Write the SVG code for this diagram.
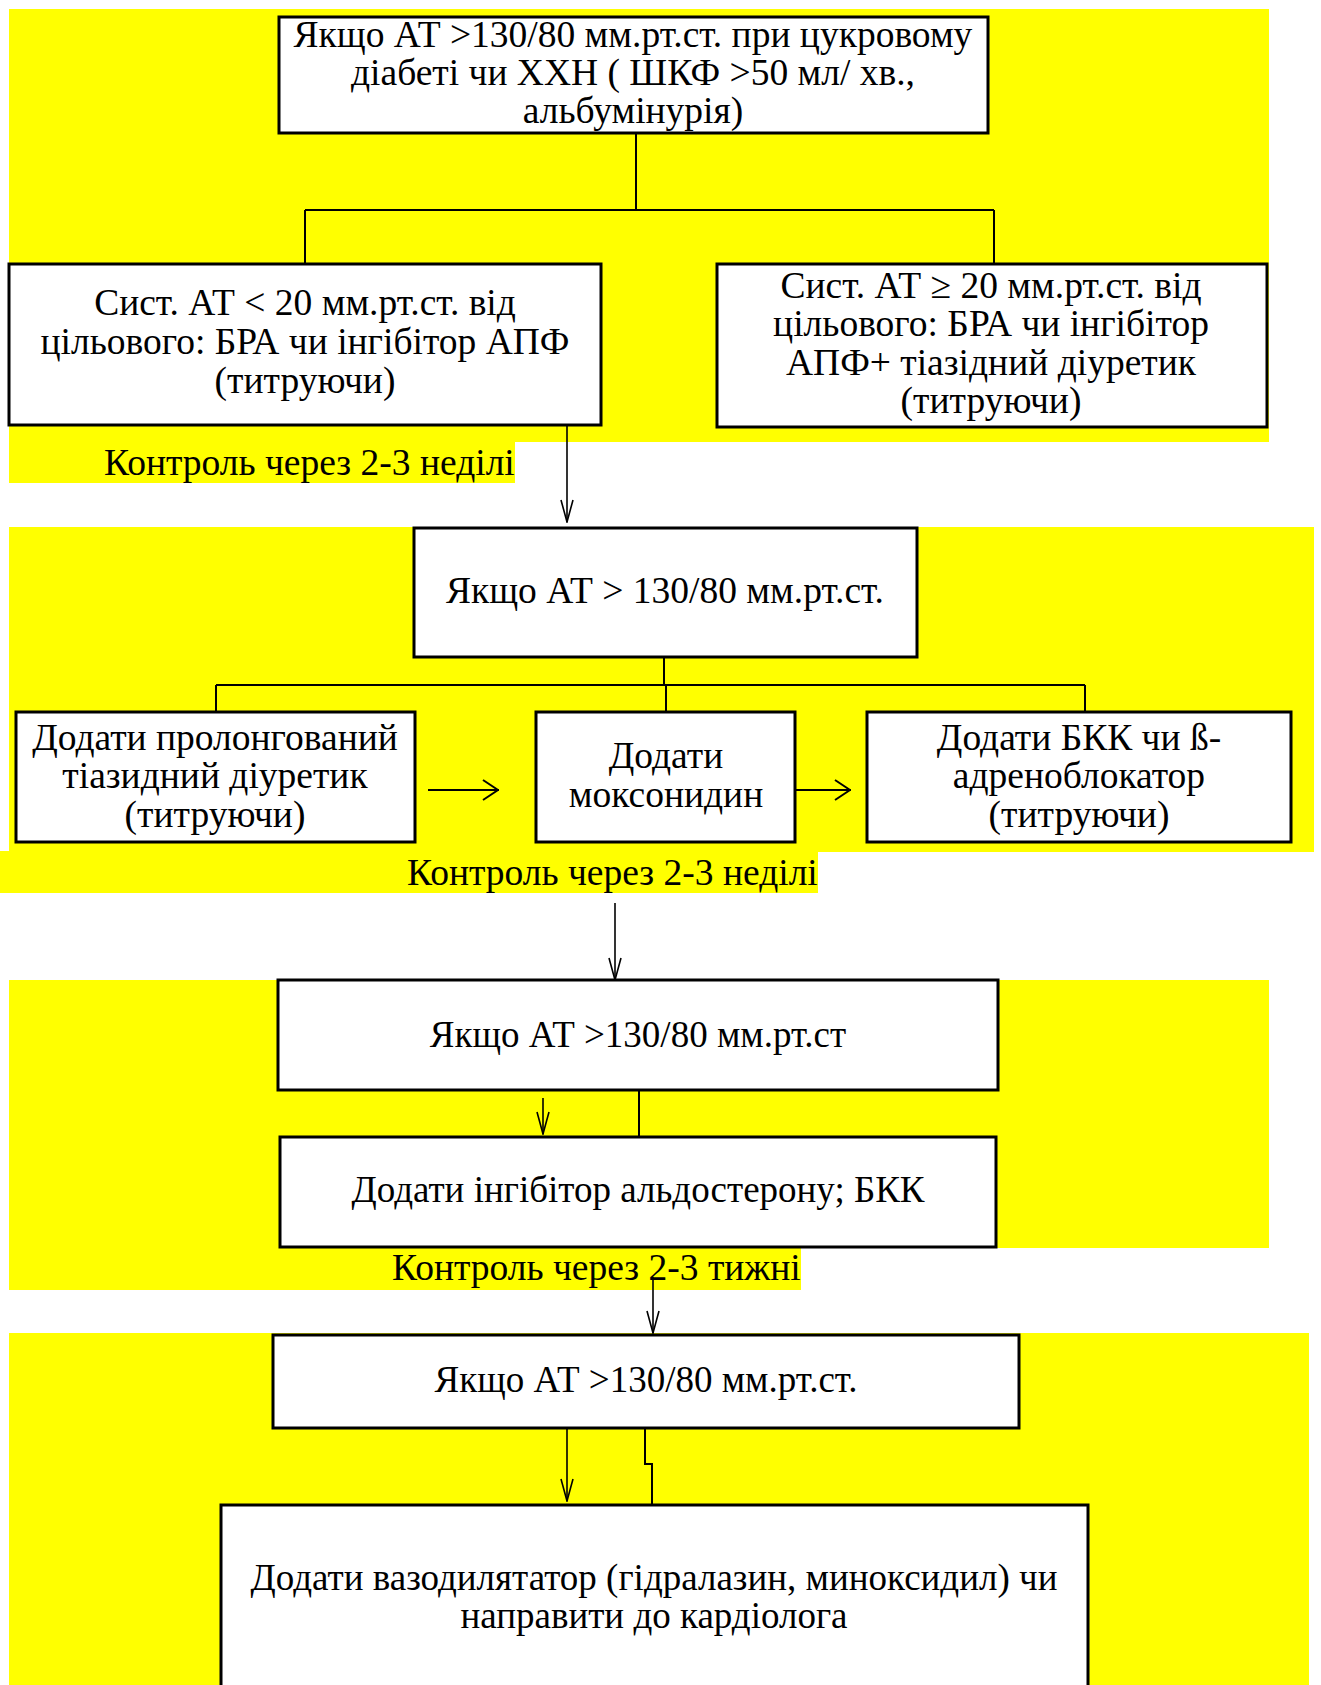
<svg xmlns="http://www.w3.org/2000/svg" width="1321" height="1685" viewBox="0 0 1321 1685">
<defs>
<style>
.bg{fill:#ffff00;stroke:none}
.box{fill:#ffffff;stroke:#000000;stroke-width:3}
.t{font-family:"Liberation Serif","Times New Roman",serif;font-size:37.5px;fill:#000000;text-anchor:middle}
.ts{font-family:"Liberation Serif","Times New Roman",serif;font-size:37px;fill:#000000;text-anchor:middle}
.tl{font-family:"Liberation Serif","Times New Roman",serif;font-size:37.5px;fill:#000000}
.c{fill:none;stroke:#000000;stroke-width:2}
.a{fill:none;stroke:#000000;stroke-width:1.6}
</style>
<marker id="ah" viewBox="0 0 24 14" refX="23" refY="7" markerWidth="24" markerHeight="14" markerUnits="userSpaceOnUse" orient="auto">
<path d="M1,1 L23,7 L1,13" fill="none" stroke="#000" stroke-width="1.6"/>
</marker>
<marker id="ahr" viewBox="0 0 24 24" refX="24" refY="12" markerWidth="24" markerHeight="24" markerUnits="userSpaceOnUse" orient="auto">
<path d="M8,2 L23,12 L8,22" fill="none" stroke="#000" stroke-width="2"/>
</marker>
</defs>
<rect width="1321" height="1685" fill="#ffffff"/>
<g id="background">
<rect class="bg" x="9" y="9" width="1260" height="433"/>
<rect class="bg" x="9" y="441" width="506" height="42"/>
<rect class="bg" x="9" y="527" width="1305" height="325"/>
<rect class="bg" x="0" y="851" width="818" height="42"/>
<rect class="bg" x="9" y="980" width="1260" height="268"/>
<rect class="bg" x="9" y="1247" width="792" height="43"/>
<rect class="bg" x="9" y="1333" width="1300" height="352"/>
</g>
<g id="connectors">
<path class="c" d="M636,133 V210" stroke-width="3"/>
<path class="c" d="M305,210 H994 M305,210 V263 M994,210 V263"/>
<path class="a" d="M567,405 V522" marker-end="url(#ah)"/>
<path class="c" d="M664,657 V685 M216,685 H1085 M216,685 V712 M666,685 V712 M1085,685 V712"/>
<path class="c" d="M428,790 H499" marker-end="url(#ahr)"/>
<path class="c" d="M785,790 H851" marker-end="url(#ahr)"/>
<path class="a" d="M615,903 V980" marker-end="url(#ah)"/>
<path class="a" d="M543,1098 V1134" marker-end="url(#ah)"/>
<path class="c" d="M639,1090 V1137"/>
<path class="a" d="M653,1277 V1333" marker-end="url(#ah)"/>
<path class="a" d="M567,1428 V1501" marker-end="url(#ah)"/>
<path class="c" d="M645,1428 V1464 H652 V1504"/>
</g>
<g id="label1"><text class="tl" x="104" y="475">Контроль через 2-3 неділі</text></g>
<g id="label2"><text class="tl" x="407" y="885">Контроль через 2-3 неділі</text></g>
<g id="label3"><text class="tl" x="392" y="1280">Контроль через 2-3 тижні</text></g>
<g id="node-top">
<rect class="box" x="279" y="17" width="709" height="116"/>
<text class="t" x="633" y="47">Якщо АТ &gt;130/80 мм.рт.ст. при цукровому</text>
<text class="t" x="633" y="85">діабеті чи ХХН ( ШКФ &gt;50 мл/ хв.,</text>
<text class="t" x="633" y="123">альбумінурія)</text>
</g>
<g id="node-left">
<rect class="box" x="9" y="264" width="592" height="161"/>
<text class="t" x="305" y="315">Сист. АТ &lt; 20 мм.рт.ст. від</text>
<text class="t" x="305" y="354">цільового: БРА чи інгібітор АПФ</text>
<text class="t" x="305" y="393">(титруючи)</text>
</g>
<g id="node-right">
<rect class="box" x="717" y="264" width="550" height="163"/>
<text class="t" x="991" y="298">Сист. АТ ≥ 20 мм.рт.ст. від</text>
<text class="t" x="991" y="336">цільового: БРА чи інгібітор</text>
<text class="t" x="991" y="375">АПФ+ тіазідний діуретик</text>
<text class="t" x="991" y="413">(титруючи)</text>
</g>
<g id="node-2">
<rect class="box" x="414" y="528" width="503" height="129"/>
<text class="t" x="665" y="603">Якщо АТ &gt; 130/80 мм.рт.ст.</text>
</g>
<g id="node-thiazide">
<rect class="box" x="16" y="712" width="399" height="130"/>
<text class="t" x="215" y="750">Додати пролонгований</text>
<text class="t" x="215" y="788">тіазидний діуретик</text>
<text class="t" x="215" y="827">(титруючи)</text>
</g>
<g id="node-moxonidine">
<rect class="box" x="536" y="712" width="259" height="130"/>
<text class="t" x="666" y="768">Додати</text>
<text class="t" x="666" y="807">моксонидин</text>
</g>
<g id="node-bkk">
<rect class="box" x="867" y="712" width="424" height="130"/>
<text class="t" x="1079" y="750">Додати БКК чи ß-</text>
<text class="t" x="1079" y="788">адреноблокатор</text>
<text class="t" x="1079" y="827">(титруючи)</text>
</g>
<g id="node-3">
<rect class="box" x="278" y="980" width="720" height="110"/>
<text class="ts" x="638" y="1047">Якщо АТ &gt;130/80 мм.рт.ст</text>
</g>
<g id="node-4">
<rect class="box" x="280" y="1137" width="716" height="110"/>
<text class="ts" x="638" y="1202">Додати інгібітор альдостерону;  БКК</text>
</g>
<g id="node-5">
<rect class="box" x="273" y="1335" width="746" height="93"/>
<text class="ts" x="646" y="1392">Якщо АТ &gt;130/80 мм.рт.ст.</text>
</g>
<g id="node-6">
<rect class="box" x="221" y="1505" width="867" height="200"/>
<text class="ts" x="654" y="1590">Додати вазодилятатор (гідралазин, миноксидил) чи</text>
<text class="ts" x="654" y="1628">направити до кардіолога</text>
</g>
</svg>
